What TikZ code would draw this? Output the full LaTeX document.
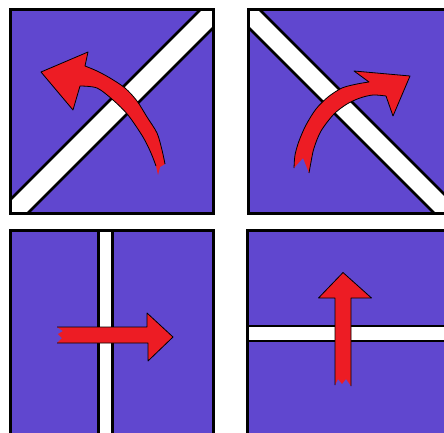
\documentclass[tikz,border=0pt]{standalone}
\definecolor{panelpurple}{RGB}{96,71,207}
\definecolor{arrowred}{RGB}{237,28,36}
\begin{document}
\begin{tikzpicture}[x=1pt,y=-1pt,
  panelframe/.style={draw=black,line width=3pt},
  bandline/.style={draw=black,line width=2.5pt},
  arrowfill/.style={fill=arrowred},
  arrowline/.style={draw=black,line width=0.8pt,line join=round}]
\useasboundingbox (0,0) rectangle (444,433);
\clip (0,0) rectangle (444,433);

% ---------- panel 1 (top left) ----------
\fill[panelpurple] (10,10) rectangle (213,213);
\begin{scope}
  \clip (10,10) rectangle (213,213);
  \fill[white] (-50,260) -- (260,-50) -- (291,-50) -- (-50,291) -- cycle;
  \draw[bandline] (-50,260) -- (260,-50);
  \draw[bandline] (-50,291) -- (291,-50);
\end{scope}
\draw[panelframe] (10,10) rectangle (213,213);
\fill[arrowfill] (165,164) -- plot[smooth] coordinates {(165,164) (162,150) (157,133) (147,117) (137,101) (125,88) (110,78) (97,71) (85,66)}
  -- (88,52) -- (41,72) -- (73,110) -- (80,86)
  -- plot[smooth] coordinates {(80,86) (97,88) (113,100) (128,115) (143,137) (151,153) (156,166)}
  -- (158,175) -- (160,167) -- cycle;
\draw[arrowline] plot[smooth] coordinates {(165,164) (162,150) (157,133) (147,117) (137,101) (125,88) (110,78) (97,71) (85,66)}
  -- (88,52) -- (41,72) -- (73,110) -- (80,86)
  -- plot[smooth] coordinates {(80,86) (97,88) (113,100) (128,115) (143,137) (151,153) (156,166)};

% ---------- panel 2 (top right) ----------
\fill[panelpurple] (248,10) rectangle (452,213);
\begin{scope}
  \clip (248,10) rectangle (452,213);
  \fill[white] (171,-50) -- (521,300) -- (550,300) -- (200,-50) -- cycle;
  \draw[bandline] (171,-50) -- (521,300);
  \draw[bandline] (200,-50) -- (550,300);
\end{scope}
\draw[panelframe] (248,10) rectangle (452,213);
\fill[arrowfill] (294,168) -- plot[smooth] coordinates {(294,168) (295,155) (299,141) (306,125) (316,109) (328,97) (342,88) (357,84) (369,82)}
  -- (354,71) -- (410,76) -- (393,116) -- (386,96)
  -- plot[smooth] coordinates {(386,96) (373,95) (360,98) (347,104) (334,114) (321,131) (314,148) (311,162) (309,173)}
  -- (303,158) -- cycle;
\draw[arrowline] plot[smooth] coordinates {(294,168) (295,155) (299,141) (306,125) (316,109) (328,97) (342,88) (357,84) (369,82)}
  -- (354,71) -- (410,76) -- (393,116) -- (386,96)
  -- plot[smooth] coordinates {(386,96) (373,95) (360,98) (347,104) (334,114) (321,131) (314,148) (311,162) (309,173)};

% ---------- panel 3 (bottom left) ----------
\fill[panelpurple] (10,230) rectangle (213,440);
\fill[white] (98.5,230) rectangle (112.5,440);
\draw[bandline] (98.5,230) -- (98.5,440);
\draw[bandline] (112.5,230) -- (112.5,440);
\draw[panelframe] (10,230) rectangle (213,440);
\fill[arrowfill] (57,327) -- (147,327) -- (147,313) -- (173,337) -- (148,361) -- (148,343) -- (57,343)
  -- (62,338) -- (58,334) -- (63,331) -- cycle;
\draw[arrowline] (57,327) -- (147,327) -- (147,313) -- (173,337) -- (148,361) -- (148,343) -- (57,343);

% ---------- panel 4 (bottom right) ----------
\fill[panelpurple] (247,230) rectangle (452,440);
\fill[white] (247,326) rectangle (452,341);
\draw[bandline] (247,326) -- (452,326);
\draw[bandline] (247,341) -- (452,341);
\draw[panelframe] (247,230) rectangle (452,440);
\fill[arrowfill] (335,385) -- (335,298) -- (318.5,298) -- (343,272.5) -- (371.5,298) -- (351,298) -- (351,386)
  -- (346,379) -- (342,384) -- (338,379) -- cycle;
\draw[arrowline] (335,385) -- (335,298) -- (318.5,298) -- (343,272.5) -- (371.5,298) -- (351,298) -- (351,386);
\end{tikzpicture}
\end{document}
